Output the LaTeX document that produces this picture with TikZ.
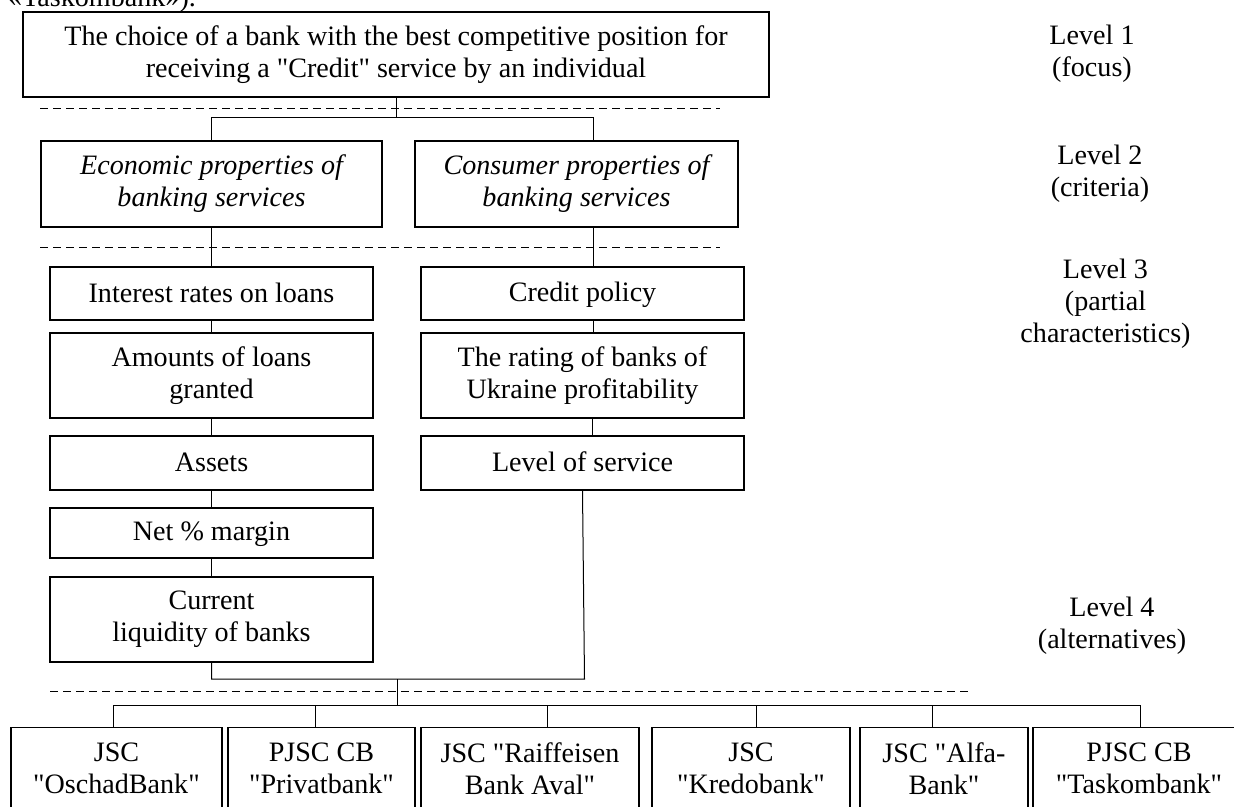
\documentclass[tikz,border=0pt]{standalone}
\usepackage{fontspec}
\setmainfont[Ligatures=TeXOff]{Liberation Serif}
\newcommand\mystrutA{\vrule width0pt height21.5pt depth0pt}
\newcommand\mystrutB{\vrule width0pt height0pt depth4.5pt}
\begin{document}
\begin{tikzpicture}[x=1pt,y=-1pt,
  txt/.style={font=\fontsize{28.1}{32}\selectfont,align=center,inner sep=0pt,
    execute at begin node=\mystrutA, execute at end node=\mystrutB},
  box/.style={txt,draw,line width=1.3pt},
  boldbox/.style={box,line width=1.7pt},
  conn/.style={line width=1pt},
  sep/.style={line width=1pt,dash pattern=on 7.5pt off 5.5pt},
  lbl/.style={txt}]
\clip (0,0) rectangle (1234,806);
% fragment of page text
\node[font=\fontsize{28.1}{32}\selectfont,inner sep=0pt,anchor=base west] (frag) at (8,6) {«Taskombank»).};
% level 1
\node[boldbox,minimum width=746pt,minimum height=85pt] (top) at (396,54.5)
  {The choice of a bank with the best competitive position for\\receiving a "Credit" service by an individual};
% level 2
\node[box,minimum width=341pt,minimum height=86pt] (econ) at (211.5,184)
  {\itshape Economic properties of\\\itshape banking services};
\node[box,minimum width=323pt,minimum height=86pt] (cons) at (576.5,184)
  {\itshape Consumer properties of\\\itshape banking services};
% level 3 left
\node[box,minimum width=323pt,minimum height=53pt] (interest) at (211.5,293.5) {Interest rates on loans};
\node[box,minimum width=323pt,minimum height=85pt] (amounts) at (211.5,375.5) {Amounts of loans\\granted};
\node[box,minimum width=323pt,minimum height=54pt] (assets) at (211.5,463) {Assets};
\node[box,minimum width=323pt,minimum height=50pt] (net) at (211.5,533) {Net \% margin};
\node[box,minimum width=323pt,minimum height=85pt] (current) at (211.5,619.5) {Current\\liquidity of banks};
% level 3 right
\node[box,minimum width=323pt,minimum height=53pt] (credit) at (582.5,293.5) {Credit policy};
\node[box,minimum width=323pt,minimum height=85pt] (rating) at (582.5,375.5) {The rating of banks of\\Ukraine profitability};
\node[box,minimum width=323pt,minimum height=54pt] (service) at (582.5,463) {Level of service};
% level 4
\node[boldbox,minimum width=211pt,minimum height=86pt] (b1) at (116.5,770.5) {JSC\\"OschadBank"};
\node[boldbox,minimum width=187pt,minimum height=86pt] (b2) at (321.5,770.5) {PJSC CB\\"Privatbank"};
\node[boldbox,minimum width=218pt,minimum height=86pt] (b3) at (530,770.5) {JSC "Raiffeisen\\Bank Aval"};
\node[boldbox,minimum width=198pt,minimum height=86pt] (b4) at (751,770.5) {JSC\\"Kredobank"};
\node[boldbox,minimum width=168pt,minimum height=86pt] (b5) at (944,770.5) {JSC "Alfa-\\Bank"};
\node[boldbox,minimum width=212pt,minimum height=86pt] (b6) at (1139,770.5) {PJSC CB\\"Taskombank"};
% level labels
\node[lbl] (l1) at (1092,53.5) {Level 1\\(focus)};
\node[lbl] (l2) at (1100,173.5) {Level 2\\(criteria)};
\node[lbl] (l3) at (1105.5,303.5) {Level 3\\(partial\\characteristics)};
\node[lbl] (l4) at (1112,625.5) {Level 4\\(alternatives)};
% separators
\draw[sep] (40,108) -- (720,108);
\draw[sep] (40,247) -- (720,247);
\draw[sep] (50,691) -- (973,691);
% connectors level 1 -> 2
\coordinate (j1) at (397,117);
\coordinate (cN) at ([xshift=16.5pt]cons.north);
\draw[conn] (top.south) -- (top.south |- j1);
\draw[conn] (econ.north) -- (econ.north |- j1) -- (cN |- j1) -- (cN);
% level 2 -> 3
\draw[conn] (econ.south) -- (interest.north);
\draw[conn] ([xshift=16.5pt]cons.south) -- ([xshift=16.5pt]cons.south |- credit.north);
% chains
\draw[conn] (interest.south) -- (amounts.north);
\draw[conn] (amounts.south) -- (assets.north);
\draw[conn] (assets.south) -- (net.north);
\draw[conn] (net.south) -- (current.north);
\draw[conn] ([xshift=10.5pt]credit.south) -- ([xshift=10.5pt]rating.north);
\draw[conn] ([xshift=9.5pt]rating.south) -- ([xshift=9.5pt]service.north);
% level 3 -> 4
\coordinate (j2) at (397,679);
\coordinate (bus) at (397,705);
\draw[conn] (current.south) -- (current.south |- j2) -- ([xshift=2pt]service.south |- j2) -- (service.south);
\draw[conn] (j2) -- (bus);
\draw[conn] ([xshift=-3.5pt]b1.north |- bus) -- ([xshift=1pt]b6.north |- bus);
\foreach \n/\s in {b1/-3.5,b2/-6.5,b3/17,b4/5,b5/-12,b6/1}
  \draw[conn] ([xshift=\s pt]\n.north) -- ([xshift=\s pt]\n.north |- bus);
\end{tikzpicture}
\end{document}
